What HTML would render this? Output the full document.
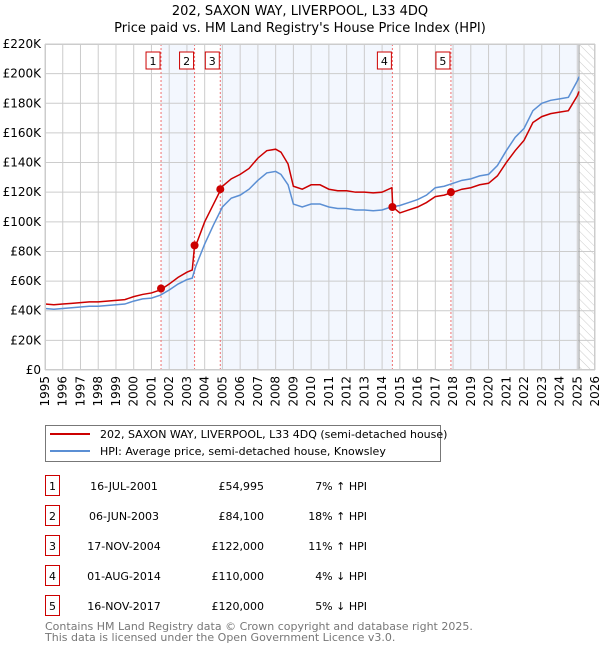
<!DOCTYPE html>
<html><head><meta charset="utf-8"><style>
body{margin:0;background:#fff;font-family:"DejaVu Sans","Liberation Sans",sans-serif;}
svg text{font-family:"DejaVu Sans","Liberation Sans",sans-serif;}
</style></head><body>
<svg id="c" width="600" height="650" xmlns="http://www.w3.org/2000/svg">
<defs><pattern id="hatch" width="6" height="6" patternUnits="userSpaceOnUse" patternTransform="rotate(-45)"><line x1="0" y1="0" x2="0" y2="6" stroke="#ccc" stroke-width="1"/></pattern></defs>
<text x="300" y="15" text-anchor="middle" font-size="13">202, SAXON WAY, LIVERPOOL, L33 4DQ</text>
<text x="300" y="32" text-anchor="middle" font-size="13">Price paid vs. HM Land Registry's House Price Index (HPI)</text>
<g id="plot"></g>
<g>
<rect x="45.5" y="425.5" width="395" height="36" fill="#fff" stroke="#777"/>
<line x1="50" y1="434" x2="90" y2="434" stroke="#cc0000" stroke-width="2"/>
<text x="100" y="438" font-size="11">202, SAXON WAY, LIVERPOOL, L33 4DQ (semi-detached house)</text>
<line x1="50" y1="451" x2="90" y2="451" stroke="#5b8fd4" stroke-width="2"/>
<text x="100" y="455" font-size="11">HPI: Average price, semi-detached house, Knowsley</text>
</g>
<g id="table"></g>
<text x="45" y="630" font-size="11" fill="#777">Contains HM Land Registry data © Crown copyright and database right 2025.</text>
<text x="45" y="641" font-size="11" fill="#777">This data is licensed under the Open Government Licence v3.0.</text>
</svg>
<script>
const hpiYears=[1995,1995.5,1996,1996.5,1997,1997.5,1998,1998.5,1999,1999.5,2000,2000.5,2001,2001.5,2002,2002.5,2003,2003.3,2003.5,2004,2004.5,2005,2005.5,2006,2006.5,2007,2007.5,2008,2008.3,2008.7,2009,2009.5,2010,2010.5,2011,2011.5,2012,2012.5,2013,2013.5,2014,2014.5,2015,2015.5,2016,2016.5,2017,2017.5,2018,2018.5,2019,2019.5,2020,2020.5,2021,2021.5,2022,2022.5,2023,2023.5,2024,2024.5,2025,2025.1];
const hpiValues=[41.5,41,41.5,42,42.5,43,43,43.5,44,44.5,46.5,48,48.5,50.5,54,58,61,62,70,85,98,110,116,118,122,128,133,134,132,125,112,110,112,112,110,109,109,108,108,107.5,108,110,111,113,115,118,123,124,126,128,129,131,132,138,148,157,163,175,180,182,183,184,195,198];
const priceYears=[1995,1995.5,1996,1996.5,1997,1997.5,1998,1998.5,1999,1999.5,2000,2000.5,2001,2001.5,2002,2002.5,2003,2003.3,2003.43,2003.5,2004,2004.5,2005,2005.5,2006,2006.5,2007,2007.5,2008,2008.3,2008.7,2009,2009.5,2010,2010.5,2011,2011.5,2012,2012.5,2013,2013.5,2014,2014.55,2014.6,2015,2015.5,2016,2016.5,2017,2017.5,2018,2018.5,2019,2019.5,2020,2020.5,2021,2021.5,2022,2022.5,2023,2023.5,2024,2024.5,2025,2025.1];
const priceValues=[44.5,44,44.5,45,45.5,46,46,46.5,47,47.5,49.5,51,52,54,58,62.5,66,67.5,84,84,100,112,124,129,132,136,143,148,149,147,139,124,122,125,125,122,121,121,120,120,119.5,120,123,110,106,108,110,113,117,118,120,122,123,125,126,131,140,148,155,167,171,173,174,175,185,188];
const saleYears=[2001.54,2003.43,2004.88,2014.58,2017.88];
const salePrices=[54.995,84.1,122,110,120];
const saleLabels=["1","2","3","4","5"];
const saleDates=["16-JUL-2001","06-JUN-2003","17-NOV-2004","01-AUG-2014","16-NOV-2017"];
const salePriceText=["£54,995","£84,100","£122,000","£110,000","£120,000"];
const saleHpiText=["7% ↑ HPI","18% ↑ HPI","11% ↑ HPI","4% ↓ HPI","5% ↓ HPI"];
const yTicks=[0,20,40,60,80,100,120,140,160,180,200,220];
const yTickLabels=["£0","£20K","£40K","£60K","£80K","£100K","£120K","£140K","£160K","£180K","£200K","£220K"];
const xTicks=[1995,1996,1997,1998,1999,2000,2001,2002,2003,2004,2005,2006,2007,2008,2009,2010,2011,2012,2013,2014,2015,2016,2017,2018,2019,2020,2021,2022,2023,2024,2025,2026];
const dataEnd=2025.1;

const L=45,R=595,T=44,B=370,x0=1995,x1=2026,yMax=220;
const X=v=>L+(v-x0)/(x1-x0)*(R-L);
const Y=v=>B-v/yMax*(B-T);
const NS="http://www.w3.org/2000/svg";
function mk(tag,attrs,parent,txt){const e=document.createElementNS(NS,tag);for(const k in attrs)e.setAttribute(k,attrs[k]);if(txt!==undefined)e.textContent=txt;parent.appendChild(e);return e;}
const plot=document.getElementById('plot');
const bands=[[saleYears[0],saleYears[1]],[saleYears[2],saleYears[3]],[saleYears[4],dataEnd]];
bands.forEach(b=>{const r=mk('rect',{x:X(b[0]),y:T,width:X(b[1])-X(b[0]),height:B-T,fill:'#eef3fd',opacity:0.7},plot);

});
const h=mk('rect',{x:X(dataEnd),y:T,width:R-X(dataEnd),height:B-T,fill:'url(#hatch)'},plot);


xTicks.forEach(t=>{const l=mk('line',{x1:X(t),x2:X(t),y1:T,y2:B,stroke:'#ccc','stroke-width':1},plot);


const tx=mk('text',{x:0,y:0,'text-anchor':'end','font-size':12,transform:'translate('+(X(t)+4)+','+(B+6)+') rotate(-90)'},plot,String(t));

});
yTicks.forEach((t,i)=>{const l=mk('line',{x1:L,x2:R,y1:Y(t),y2:Y(t),stroke:'#ccc','stroke-width':1},plot);


const tx=mk('text',{x:L-4,y:Y(t)+4,'text-anchor':'end','font-size':12},plot,yTickLabels[i]);

});
const dl=mk('line',{x1:X(dataEnd),x2:X(dataEnd),y1:T,y2:B,stroke:'#999','stroke-width':1},plot);


saleYears.forEach(s=>{const l=mk('line',{x1:X(s),x2:X(s),y1:T,y2:B,stroke:'#f07070','stroke-width':1,'stroke-dasharray':'2,2'},plot);

});
const hp=mk('polyline',{points:hpiYears.map((v,i)=>X(v)+','+Y(hpiValues[i])).join(' '),fill:'none',stroke:'#5b8fd4','stroke-width':1.5},plot);


const pp=mk('polyline',{points:priceYears.map((v,i)=>X(v)+','+Y(priceValues[i])).join(' '),fill:'none',stroke:'#cc0000','stroke-width':1.5},plot);


saleYears.forEach((s,i)=>{const c=mk('circle',{cx:X(s),cy:Y(salePrices[i]),r:4,fill:'#cc0000'},plot);


const bx=mk('rect',{x:X(s)-15,y:52,width:14,height:17,fill:'#fff',stroke:'#cc0000'},plot);


const t=mk('text',{x:X(s)-8,y:65,'text-anchor':'middle','font-size':11},plot,saleLabels[i]);

});
const fr=mk('rect',{x:L+0.5,y:T+0.5,width:R-L-1,height:B-T-1,fill:'none',stroke:'#ccc'},plot);


const tb=document.getElementById('table');
saleLabels.forEach((lab,i)=>{const y=475+i*30;
const b=mk('rect',{x:45.5,y:y+0.5,width:14,height:20,fill:'#fff',stroke:'#cc0000'},tb);


const a=mk('text',{x:52.5,y:y+15,'text-anchor':'middle','font-size':11},tb,lab);


const d=mk('text',{x:124,y:y+15,'text-anchor':'middle','font-size':11},tb,saleDates[i]);


const p=mk('text',{x:264,y:y+15,'text-anchor':'end','font-size':11},tb,salePriceText[i]);


const q=mk('text',{x:367,y:y+15,'text-anchor':'end','font-size':11},tb,saleHpiText[i]);

});
</script>
</body></html>
